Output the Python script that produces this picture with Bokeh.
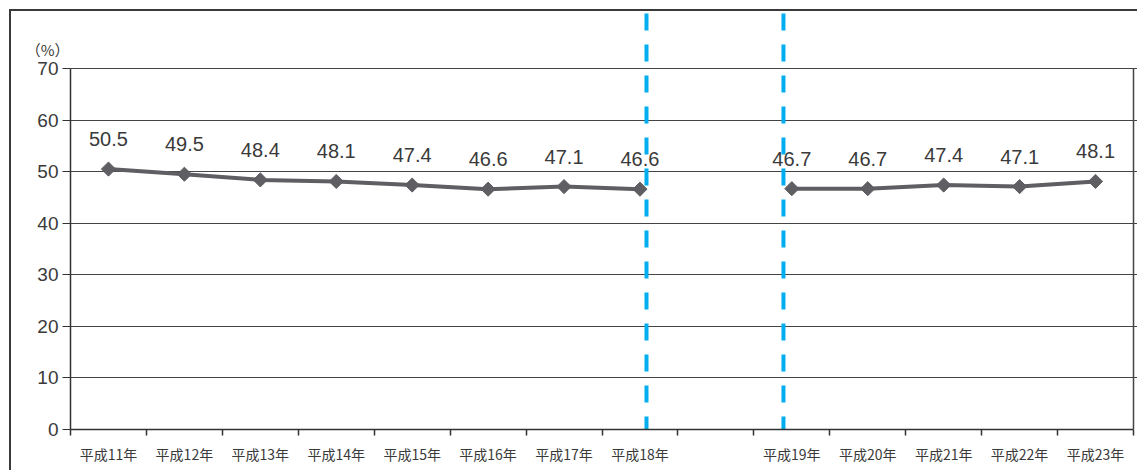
import math
from bokeh.plotting import figure
from bokeh.models import Range1d, FixedTicker, ColumnDataSource, LinearAxis
from bokeh.embed import file_html
from bokeh.resources import INLINE
from bokeh.core.properties import value

# ---- data ----
categories = ["平成11年", "平成12年", "平成13年", "平成14年", "平成15年", "平成16年",
              "平成17年", "平成18年", "", "平成19年", "平成20年", "平成21年",
              "平成22年", "平成23年"]
rates_a_cats = ["平成11年", "平成12年", "平成13年", "平成14年", "平成15年", "平成16年",
                "平成17年", "平成18年"]
rates_a = [50.5, 49.5, 48.4, 48.1, 47.4, 46.6, 47.1, 46.6]
rates_b_cats = ["平成19年", "平成20年", "平成21年", "平成22年", "平成23年"]
rates_b = [46.7, 46.7, 47.4, 47.1, 48.1]
y_ticks = [0, 10, 20, 30, 40, 50, 60, 70]
y_unit = "（%）"

# ---- style / layout constants ----
OFF = 11                       # canvas offset inside the outer frame (px)
W, H = 1139 - OFF, 472 - OFF
LINE_COLOR = "#5e5e63"
TEXT_COLOR = "#3a3a3a"
BLUE = "#00aeef"
n = len(categories)
idx = {c: i + 0.5 for i, c in enumerate(categories)}
PX_X = 75.93
PX_Y = 5.157
y_top = (429 - OFF) / PX_Y
unit_y = (429 - 49) / PX_Y

p = figure(width=W, height=H, output_backend="svg", toolbar_location=None,
           x_range=Range1d(0, n + 6 / PX_X), y_range=Range1d(0, y_top),
           min_border_left=70 - OFF, min_border_right=0, min_border_top=0,
           min_border_bottom=43, x_axis_location=None, y_axis_location=None)
p.outline_line_color = None
p.background_fill_color = "white"
p.border_fill_color = "white"
p.styles = {"margin-left": "9px", "margin-top": "9px",
            "border-left": "2px solid #3a3a3a", "border-top": "2px solid #3a3a3a"}

# y axis
yax = LinearAxis(ticker=FixedTicker(ticks=y_ticks), bounds=(0, 70))
yax.axis_line_color = "#333333"
yax.axis_line_width = 1.5
yax.major_tick_out = 8
yax.major_tick_in = 0
yax.major_tick_line_color = "#333333"
yax.minor_tick_line_color = None
yax.major_label_text_font = "Liberation Sans"
yax.major_label_text_font_size = "19px"
yax.major_label_text_color = TEXT_COLOR
yax.major_label_standoff = 4
p.add_layout(yax, "left")

# unit label carried as the only tick label of an otherwise invisible axis
uax = LinearAxis(ticker=FixedTicker(ticks=[unit_y]), bounds=(unit_y - 0.5, unit_y + 0.5))
uax.major_label_overrides = {unit_y: y_unit}
uax.axis_line_color = None
uax.major_tick_line_color = None
uax.minor_tick_line_color = None
uax.major_tick_out = 0
uax.major_tick_in = 0
uax.major_label_text_font = "Noto Sans CJK JP"
uax.major_label_text_font_size = "15px"
uax.major_label_text_color = TEXT_COLOR
uax.major_label_standoff = -35
p.add_layout(uax, "left")

# x axis: labels at centres, ticks at boundaries (minor ticks)
centres = [i + 0.5 for i in range(n)]
xax = LinearAxis(ticker=FixedTicker(ticks=centres, minor_ticks=list(range(n + 1))),
                 bounds=(0, n))
xax.major_label_overrides = {c: lab for c, lab in zip(centres, categories)}
xax.axis_line_color = "#333333"
xax.axis_line_width = 1.5
xax.major_tick_line_color = None
xax.major_tick_out = 0
xax.major_tick_in = 0
xax.minor_tick_out = 6
xax.minor_tick_in = 0
xax.minor_tick_line_color = "#333333"
xax.minor_tick_line_width = 1.5
xax.major_label_text_font = "Noto Sans CJK JP"
xax.major_label_text_font_size = "14px"
xax.major_label_text_color = TEXT_COLOR
xax.major_label_standoff = 8
p.add_layout(xax, "below")

# grid
p.ygrid.ticker = FixedTicker(ticks=y_ticks[1:])
p.ygrid.grid_line_color = "#444444"
p.ygrid.grid_line_width = 1
p.ygrid.bounds = (0, n)
p.xgrid.grid_line_color = None

# right border of plot area
p.segment(x0=[n], y0=[0], x1=[n], y1=[70], line_color="#444444", line_width=1.5)

# dashed blue separators (drawn top -> bottom)
sep_x = [idx["平成18年"] + 0.086, idx["平成19年"] - 0.11]
dash_top = (429 - 13) / PX_Y
for sx in sep_x:
    p.segment(x0=[sx], y0=[dash_top], x1=[sx], y1=[0], line_color=BLUE,
              line_width=4, line_dash="17 14")

# series
for cats, vals in ((rates_a_cats, rates_a), (rates_b_cats, rates_b)):
    src = ColumnDataSource(dict(x=[idx[c] for c in cats], y=vals,
                                t=[f"{v:.1f}" for v in vals]))
    p.line("x", "y", source=src, line_color=LINE_COLOR, line_width=4)
    p.scatter("x", "y", source=src, marker="square", size=10, angle=math.pi / 4,
              fill_color=LINE_COLOR, line_color=LINE_COLOR)
    p.text("x", "y", text="t", source=src, y_offset=-30, text_align="center",
           text_baseline="middle", text_font=value("Liberation Sans"),
           text_font_size="20px", text_color=TEXT_COLOR)

open("out.html", "w").write(file_html(p, INLINE))
